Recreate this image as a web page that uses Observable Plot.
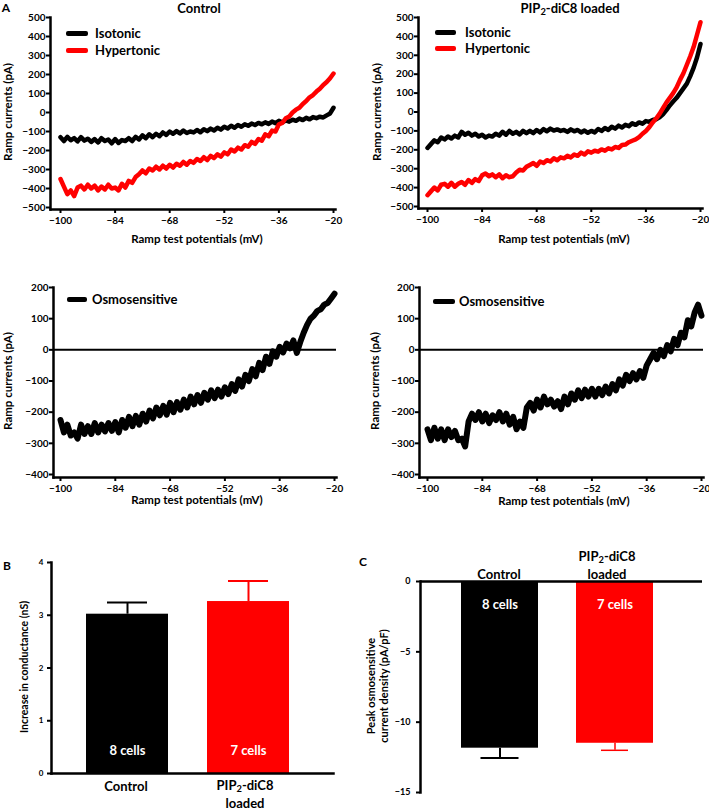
<!DOCTYPE html>
<html>
<head>
<meta charset="utf-8">
<script src="https://cdn.jsdelivr.net/npm/d3@7"></script>
<script src="https://cdn.jsdelivr.net/npm/@observablehq/plot@0.6"></script>
<style>
  html, body { margin: 0; padding: 0; background: #fff; }
  #fig { position: relative; width: 709px; height: 812px; overflow: hidden; font-family: Lato, "Open Sans", sans-serif; font-weight: bold; color: #000; }
  .lbl { position: absolute; white-space: nowrap; line-height: 1; }
  .lbl sub { font-size: 0.72em; vertical-align: -0.25em; line-height: 0; }
  .sw { position: absolute; border-radius: 2px; }
</style>
</head>
<body>
<div id="fig"></div>
<script>
// ---------- DATA ----------
const potentials = [-100,-99,-98,-97,-96,-95,-94,-93,-92,-91,-90,-89,-88,-87,-86,-85,-84,-83,-82,-81,-80,-79,-78,-77,-76,-75,-74,-73,-72,-71,-70,-69,-68,-67,-66,-65,-64,-63,-62,-61,-60,-59,-58,-57,-56,-55,-54,-53,-52,-51,-50,-49,-48,-47,-46,-45,-44,-43,-42,-41,-40,-39,-38,-37,-36,-35,-34,-33,-32,-31,-30,-29,-28,-27,-26,-25,-24,-23,-22,-21,-20];

const controlIsotonic = [-130,-150,-128,-146,-135,-152,-130,-148,-138,-155, -140,-158,-135,-150,-142,-162,-140,-160,-145,-150, -135,-150,-128,-142,-120,-135,-115,-130,-112,-125, -105,-118,-100,-112,-98,-110,-95,-108,-100,-105, -92,-104,-88,-98,-85,-95,-80,-90,-75,-84, -70,-80,-66,-75,-62,-70,-58,-66,-55,-62, -52,-60,-48,-56,-44,-52,-42,-48,-38,-44, -32,-40,-28,-36,-24,-30,-22,-26,-15,-5, 25];
const controlHypertonic = [-350,-390,-430,-410,-440,-395,-385,-405,-380,-400, -385,-410,-390,-405,-380,-400,-395,-410,-375,-395, -360,-370,-340,-325,-305,-320,-295,-305,-285,-300, -280,-295,-275,-290,-270,-280,-260,-275,-255,-265, -245,-255,-235,-250,-228,-240,-220,-232,-210,-220, -195,-205,-185,-195,-172,-180,-155,-165,-140,-148, -115,-125,-95,-100,-62,-55,-30,-22,0,15, 25,45,60,80,92,110,125,145,160,180, 205];
const pipIsotonic = [-190,-170,-150,-160,-135,-145,-130,-140,-125,-135, -105,-120,-110,-125,-115,-130,-120,-135,-125,-130, -115,-125,-105,-120,-100,-115,-105,-118,-100,-112, -100,-112,-95,-108,-90,-102,-88,-98,-92,-100, -95,-105,-92,-102,-95,-108,-98,-110,-100,-108, -90,-100,-85,-95,-78,-88,-72,-82,-68,-75, -60,-68,-55,-62,-48,-52,-42,-38,-28,-12, 10,35,55,75,100,125,150,190,235,290, 360];
const pipHypertonic = [-440,-420,-400,-415,-385,-380,-395,-375,-395,-380, -370,-385,-360,-375,-355,-365,-335,-325,-340,-330, -345,-330,-350,-335,-345,-340,-320,-305,-310,-290, -280,-270,-285,-262,-270,-255,-262,-245,-255,-240, -245,-232,-240,-225,-232,-215,-225,-208,-215,-205, -210,-198,-205,-192,-198,-185,-190,-175,-172,-160, -152,-145,-133,-115,-100,-80,-55,-35,-10,20, 50,75,100,130,170,205,250,295,345,410, 475];
const controlOsmo = [-225,-265,-240,-275,-265,-285,-240,-270,-245,-270, -235,-265,-240,-262,-235,-260,-232,-265,-225,-250, -215,-245,-212,-240,-205,-230,-195,-220,-185,-210, -180,-208,-170,-200,-168,-192,-160,-185,-150,-175, -145,-170,-138,-160,-130,-155,-128,-150,-120,-142, -110,-132,-95,-118,-80,-100,-62,-85,-42,-65, -22,-45,-5,-22,10,-8,20,5,30,-10, 25,55,80,100,110,125,130,145,150,165, 180];
const pipOsmo = [-255,-290,-250,-285,-255,-290,-255,-280,-260,-290, -285,-310,-230,-205,-225,-200,-230,-205,-235,-210, -225,-200,-230,-205,-240,-215,-255,-230,-250,-185, -170,-195,-160,-185,-150,-175,-160,-182,-165,-190, -150,-175,-140,-160,-130,-155,-128,-150,-125,-150, -125,-145,-118,-140,-110,-130,-95,-115,-80,-100, -75,-95,-68,-90,-50,-30,-10,-30,0,-20, 15,-5,35,15,55,40,95,75,120,145, 110];

const xTicks = [-100,-84,-68,-52,-36,-20];
const yTicksTop = [-500,-400,-300,-200,-100,0,100,200,300,400,500];
const yTicksBottom = [-400,-300,-200,-100,0,100,200];

const groups = ["Control", "PIP2-diC8 loaded"];
const cellCounts = ["8 cells", "7 cells"];
const barColors = ["#000000", "#ff0000"];
const conductanceMean = [3.02, 3.26];
const conductanceSEM = [0.22, 0.39];
const conductanceTicks = [0,1,2,3,4];
const densityMean = [-11.85, -11.5];
const densitySEM = [0.7, 0.5];
const densityTicks = [0,-5,-10,-15];

// ---------- LAYOUT HELPERS ----------
const fig = document.getElementById("fig");
const baseStyle = {fontFamily: "Lato, 'Open Sans', sans-serif", fontWeight: "bold", fontSize: "10px", background: "transparent", color: "black", overflow: "visible"};
const intFormat = d => String(d).replace("-", "\u2212");

function place(el, left, top) {
  el.style.position = "absolute";
  el.style.left = left + "px";
  el.style.top = top + "px";
  fig.appendChild(el);
}
function label(html, x, y, size, opts = {}) {
  const d = document.createElement("div");
  d.className = "lbl";
  d.innerHTML = html;
  d.style.fontSize = size + "px";
  d.style.left = x + "px";
  d.style.top = y + "px";
  let t = opts.anchor === "start" ? "translate(0,-50%)" : "translate(-50%,-50%)";
  if (opts.rotate) t += " rotate(-90deg)";
  d.style.transform = t;
  if (opts.color) d.style.color = opts.color;
  fig.appendChild(d);
}
function swatch(x1, x2, y, color, h = 5) {
  const d = document.createElement("div");
  d.className = "sw";
  d.style.left = x1 + "px";
  d.style.width = (x2 - x1) + "px";
  d.style.top = (y - h / 2) + "px";
  d.style.height = h + "px";
  d.style.background = color;
  fig.appendChild(d);
}

function tracePlot(cfg) {
  return Plot.plot({
    width: cfg.width, height: 260,
    marginLeft: cfg.ml, marginRight: cfg.mr, marginTop: cfg.mt, marginBottom: cfg.mb,
    x: {domain: [-100, -20], insetLeft: cfg.il, insetRight: 2},
    y: {domain: cfg.yDomain, insetBottom: cfg.ib},
    style: baseStyle,
    marks: [
      ...(cfg.zero ? [Plot.ruleY([0], {stroke: "#000", strokeWidth: 2})] : []),
      ...cfg.series.map(s => Plot.line(potentials, {x: potentials, y: s.values, stroke: s.color, strokeWidth: cfg.sw, strokeLinejoin: "round"})),
      Plot.frame({anchor: "left", strokeWidth: 2.5}),
      Plot.frame({anchor: "bottom", strokeWidth: 2.5}),
      Plot.axisY({ticks: cfg.yTicks, tickFormat: intFormat, tickSize: 4, tickPadding: 1, strokeWidth: 2, label: null, fontSize: 10}),
      Plot.axisX({ticks: xTicks, tickFormat: intFormat, tickSize: 4, tickPadding: 3, strokeWidth: 2, label: null, fontSize: 10})
    ]
  });
}

// ---------- PANEL A ----------
place(tracePlot({width: 350, ml: 50, mr: 15, mt: 17, mb: 51, il: 10, ib: 2, sw: 4.5, yDomain: [-500, 500], yTicks: yTicksTop,
  series: [{values: controlIsotonic, color: "#000"}, {values: controlHypertonic, color: "#ff0000"}]}), 0, 0);
place(tracePlot({width: 359, ml: 68, mr: 7, mt: 17, mb: 52, il: 9, ib: 2, sw: 4.5, yDomain: [-500, 500], yTicks: yTicksTop,
  series: [{values: pipIsotonic, color: "#000"}, {values: pipHypertonic, color: "#ff0000"}]}), 350, 0);
place(tracePlot({width: 350, ml: 53, mr: 14, mt: 27, mb: 43, il: 7, ib: 3, sw: 6, yDomain: [-400, 200], yTicks: yTicksBottom, zero: true,
  series: [{values: controlOsmo, color: "#000"}]}), 0, 260);
place(tracePlot({width: 359, ml: 69, mr: 6, mt: 27, mb: 43, il: 8, ib: 3, sw: 6, yDomain: [-400, 200], yTicks: yTicksBottom, zero: true,
  series: [{values: pipOsmo, color: "#000"}]}), 350, 260);

// ---------- PANEL B ----------
const bRows = groups.map((g, i) => ({group: g, mean: conductanceMean[i], err: conductanceMean[i] + conductanceSEM[i], color: barColors[i], n: cellCounts[i]}));
place(Plot.plot({
  width: 350, height: 272, marginLeft: 51, marginRight: 17, marginTop: 22, marginBottom: 39,
  x: {domain: groups, paddingInner: 0.322, paddingOuter: 0.326, align: 0.44, axis: null},
  y: {domain: [0, 4]},
  color: {type: "identity"},
  style: baseStyle,
  marks: [
    Plot.ruleX(bRows, {x: "group", y1: "mean", y2: "err", stroke: "color", strokeWidth: 2}),
    Plot.tickY(bRows, {x: "group", y: "err", stroke: "color", strokeWidth: 2, insetLeft: 21, insetRight: 21}),
    Plot.barY(bRows, {x: "group", y: "mean", fill: "color"}),
    Plot.text(bRows, {x: "group", text: "n", frameAnchor: "bottom", dy: -19, fill: "white", fontSize: 13, fontWeight: "bold"}),
    Plot.frame({anchor: "left", strokeWidth: 2.5}),
    Plot.frame({anchor: "bottom", strokeWidth: 2.5}),
    Plot.axisY({ticks: conductanceTicks, tickFormat: intFormat, tickSize: 4, tickPadding: 4, strokeWidth: 2, label: null, fontSize: 8})
  ]
}), 0, 540);

// ---------- PANEL C ----------
const cRows = groups.map((g, i) => ({group: g, mean: densityMean[i], err: densityMean[i] - densitySEM[i], color: barColors[i], n: cellCounts[i], w: i === 0 ? 2 : 1.5}));
place(Plot.plot({
  width: 359, height: 272, marginLeft: 70, marginRight: 7, marginTop: 41, marginBottom: 20,
  x: {domain: groups, paddingInner: 0.328, paddingOuter: 0.38, align: 0.455, axis: null},
  y: {domain: [-15, 0]},
  color: {type: "identity"},
  style: baseStyle,
  marks: [
    Plot.ruleX(cRows, {x: "group", y1: "mean", y2: "err", stroke: "color", strokeWidth: "w"}),
    Plot.tickY(cRows, {filter: d => d.group === groups[0], x: "group", y: "err", stroke: "color", strokeWidth: "w", insetLeft: 19.5, insetRight: 19.5}),
    Plot.tickY(cRows, {filter: d => d.group === groups[1], x: "group", y: "err", stroke: "color", strokeWidth: "w", insetLeft: 25, insetRight: 25}),
    Plot.barY(cRows, {x: "group", y: "mean", fill: "color"}),
    Plot.text(cRows, {x: "group", text: "n", frameAnchor: "top", dy: 18, fill: "white", fontSize: 13, fontWeight: "bold"}),
    Plot.ruleY([0], {stroke: "#000", strokeWidth: 2.5}),
    Plot.frame({anchor: "left", strokeWidth: 2.5}),
    Plot.axisY({ticks: densityTicks, tickFormat: intFormat, tickSize: 4, tickPadding: 6, strokeWidth: 2, label: null, fontSize: 9})
  ]
}), 350, 540);

// ---------- TEXT ----------
const pip = "PIP<sub>2</sub>-diC8";
label("A", 6, 8, 12);
label("Control", 199, 8, 13);
label(pip + " loaded", 570, 8, 13);

swatch(66, 88, 33, "#000"); label("Isotonic", 95, 33, 13, {anchor: "start"});
swatch(66, 88, 50, "#ff0000"); label("Hypertonic", 95, 50, 13, {anchor: "start"});
swatch(435, 456, 32, "#000"); label("Isotonic", 465, 32, 13, {anchor: "start"});
swatch(435, 456, 48, "#ff0000"); label("Hypertonic", 465, 48, 13, {anchor: "start"});
swatch(67, 87, 299, "#000"); label("Osmosensitive", 92, 299, 13, {anchor: "start"});
swatch(433, 455, 301, "#000"); label("Osmosensitive", 459, 301, 13, {anchor: "start"});

label("Ramp test potentials (mV)", 197, 239, 11.5);
label("Ramp test potentials (mV)", 564, 239, 11.5);
label("Ramp test potentials (mV)", 197, 500, 11.5);
label("Ramp test potentials (mV)", 564, 501, 11.5);
label("Ramp currents (pA)", 8, 112, 11.5, {rotate: true});
label("Ramp currents (pA)", 377, 112, 11.5, {rotate: true});
label("Ramp currents (pA)", 8, 381, 11.5, {rotate: true});
label("Ramp currents (pA)", 375, 381, 11.5, {rotate: true});

label("B", 7, 566, 12);
label("Increase in conductance (nS)", 24, 667, 10.5, {rotate: true});
label("Control", 126, 786, 13);
label(pip, 245, 785, 13);
label("loaded", 245, 803, 13);

label("C", 363, 562, 12);
label("Control", 499, 574, 13);
label(pip, 607, 556, 13);
label("loaded", 607, 574, 13);
label("Peak osmosensitive", 370, 686, 11, {rotate: true});
label("current density (pA/pF)", 383, 686, 11, {rotate: true});
</script>
</body>
</html>
